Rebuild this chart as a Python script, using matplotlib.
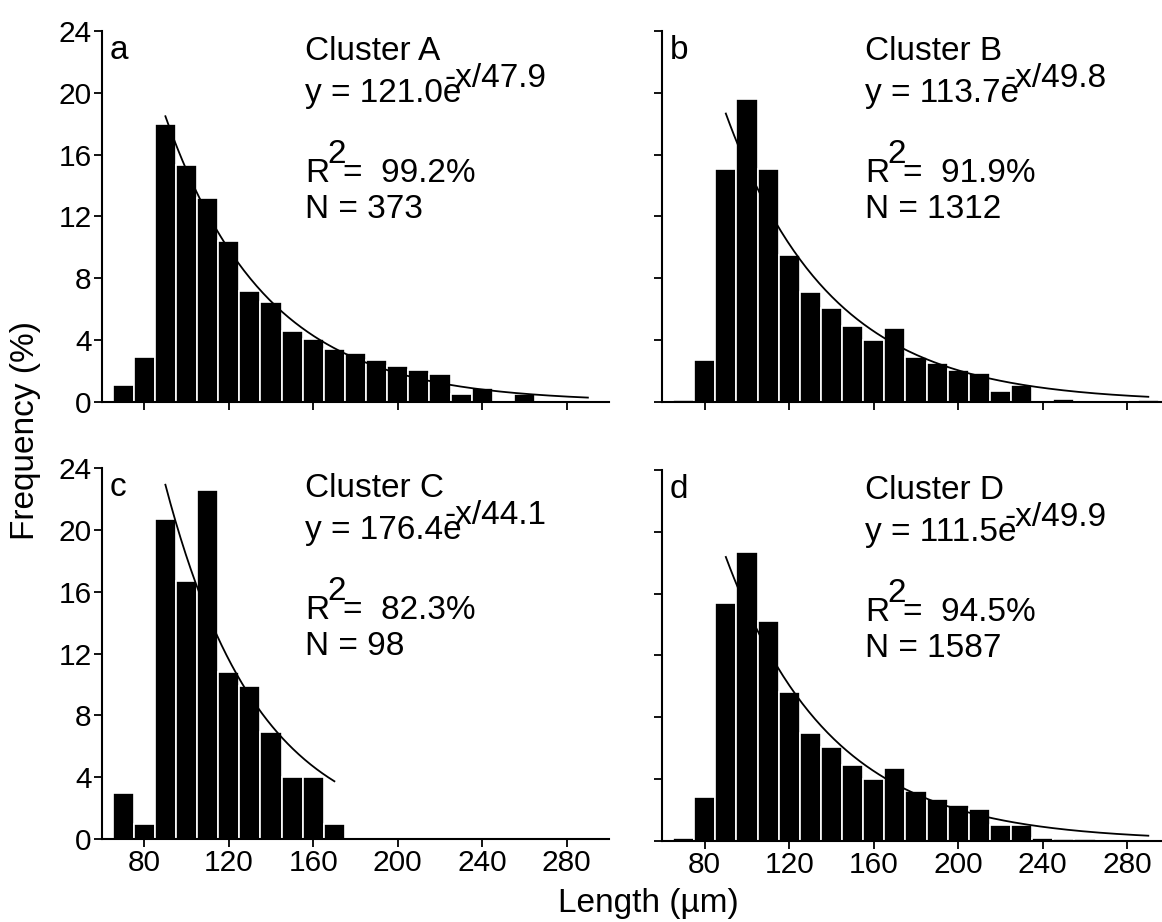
import numpy as np
import matplotlib
matplotlib.use('Agg')
from matplotlib import pyplot as plt

plt.rcParams['font.family'] = ['Liberation Sans', 'DejaVu Sans']

# bin centres (um), 10 um wide bins
bins = [70, 80, 90, 100, 110, 120, 130, 140, 150, 160, 170, 180,
        190, 200, 210, 220, 230, 240, 250, 260, 270, 280, 290]

freq_a = [1.1, 2.9, 18.0, 15.3, 13.2, 10.4, 7.2, 6.5, 4.6, 4.1, 3.4, 3.2,
          2.7, 2.3, 2.1, 1.8, 0.5, 0.9, 0, 0.5, 0, 0, 0]
freq_b = [0.12, 2.7, 15.1, 19.6, 15.1, 9.5, 7.1, 6.1, 4.9, 4.0, 4.8, 2.9,
          2.5, 2.1, 1.9, 0.7, 1.1, 0, 0.2, 0, 0, 0, 0.1]
freq_c = [3.0, 1.0, 20.7, 16.7, 22.6, 10.8, 9.9, 6.9, 4.0, 4.0, 1.0, 0,
          0, 0, 0, 0, 0, 0, 0, 0, 0, 0, 0]
freq_d = [0.2, 2.85, 15.4, 18.7, 14.2, 9.6, 7.0, 6.1, 4.9, 4.0, 4.7, 3.2,
          2.7, 2.3, 2.05, 1.0, 1.0, 0.2, 0.15, 0.15, 0, 0, 0.07]

# fit y = A * exp(-x / t)
fit_amp = [121.0, 113.7, 176.4, 111.5]
fit_tau = [47.9, 49.8, 44.1, 49.9]
fit_end = [290, 290, 170, 290]
r2 = ['99.2%', '91.9%', '82.3%', '94.5%']
counts = [373, 1312, 98, 1587]
names = ['A', 'B', 'C', 'D']
letters = ['a', 'b', 'c', 'd']
freqs = [freq_a, freq_b, freq_c, freq_d]

xticks = [80, 120, 160, 200, 240, 280]
yticks = [0, 4, 8, 12, 16, 20, 24]

fig = plt.figure(figsize=(11.62, 9.22), dpi=100)

positions = [
    [0.0878, 0.564, 0.4363, 0.4024],
    [0.5701, 0.564, 0.4363, 0.4024],
    [0.0878, 0.090, 0.4363, 0.4024],
    [0.5701, 0.088, 0.4363, 0.4024],
]

fs = 24
for i in range(4):
    ax = fig.add_axes(positions[i])
    ax.bar(bins, freqs[i], width=10, color='black', edgecolor='white', linewidth=1.2)
    xf = np.linspace(90, fit_end[i], 200)
    ax.plot(xf, fit_amp[i] * np.exp(-xf / fit_tau[i]), color='black', lw=1.3)

    ax.set_xlim(60, 300)
    ax.set_ylim(0, 24)
    ax.set_xticks(xticks)
    ax.set_yticks(yticks)
    for s in ['top', 'right']:
        ax.spines[s].set_visible(False)
    for s in ['left', 'bottom']:
        ax.spines[s].set_linewidth(1.5)
    ax.tick_params(direction='out', length=5.5, width=1.3, labelsize=21.5, pad=2)
    if i < 2:
        ax.tick_params(axis='x', labelbottom=False)
    if i % 2 == 1:
        ax.tick_params(axis='y', labelleft=False)

    ax.text(63.6, 22.2, letters[i], fontsize=fs)
    ax.text(156, 22.1, 'Cluster ' + names[i], fontsize=fs)
    ax.text(156, 19.4, 'y = %.1fe' % fit_amp[i], fontsize=fs)
    ax.text(222, 20.4, '-x/%.1f' % fit_tau[i], fontsize=fs)
    ax.text(156, 14.25, 'R', fontsize=fs)
    ax.text(166.5, 15.45, '2', fontsize=fs)
    ax.text(174, 14.25, '=  ' + r2[i], fontsize=fs)
    ax.text(156, 11.9, 'N = %d' % counts[i], fontsize=fs)

fig.text(26 / 1162, 1 - 430 / 922, 'Frequency (%)', rotation=90, fontsize=fs,
         ha='center', va='center')
fig.text(648 / 1162, 1 - 903 / 922, 'Length (\u00b5m)', fontsize=fs,
         ha='center', va='center')

fig.savefig('out.png', dpi=100)
